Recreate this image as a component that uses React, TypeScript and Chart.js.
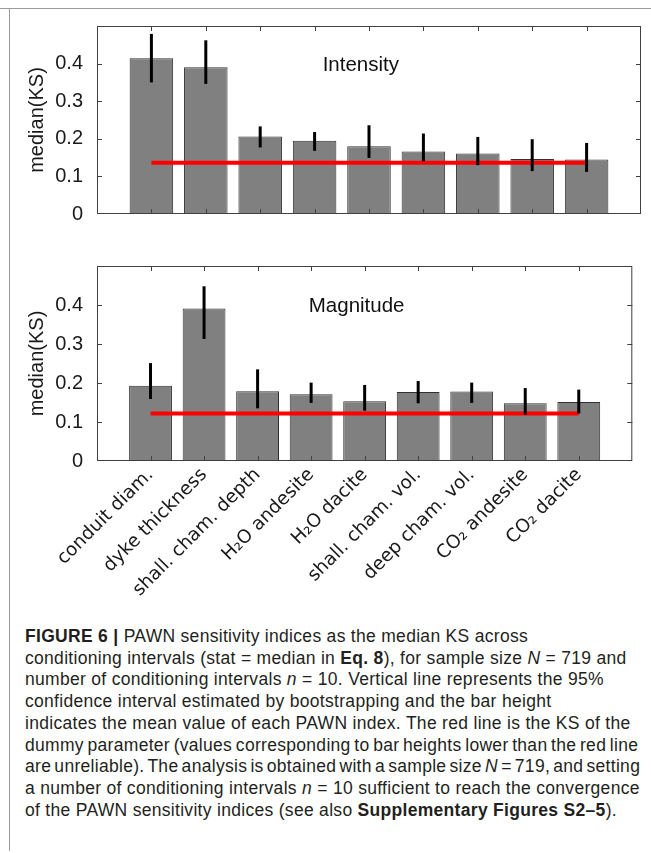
import React, { useEffect, useRef } from "react";
import { Chart, registerables } from "chart.js";

Chart.register(...registerables);

// ---------- data ----------
const categories = [
  "conduit diam.",
  "dyke thickness",
  "shall. cham. depth",
  "H\u2082O andesite",
  "H\u2082O dacite",
  "shall. cham. vol.",
  "deep cham. vol.",
  "CO\u2082 andesite",
  "CO\u2082 dacite",
];

const intensityValues = [0.414, 0.39, 0.206, 0.195, 0.18, 0.166, 0.161, 0.146, 0.145];
const intensityLow = [0.35, 0.346, 0.177, 0.168, 0.149, 0.14, 0.13, 0.114, 0.112];
const intensityHigh = [0.479, 0.462, 0.233, 0.218, 0.236, 0.214, 0.205, 0.199, 0.189];
const intensityDummy = 0.1366;

const magnitudeValues = [0.193, 0.391, 0.179, 0.171, 0.153, 0.177, 0.178, 0.148, 0.151];
const magnitudeLow = [0.159, 0.313, 0.135, 0.149, 0.129, 0.148, 0.149, 0.119, 0.122];
const magnitudeHigh = [0.251, 0.448, 0.235, 0.201, 0.195, 0.205, 0.201, 0.187, 0.183];
const magnitudeDummy = 0.122;

const yTickValues = [0, 0.1, 0.2, 0.3, 0.4];
const yMax = 0.5;

// ---------- helpers ----------
const axisLabels = ["", ...categories, ""];
const pad = (arr: (number | null)[]) => [null, ...arr, null];

const decorPlugin = {
  id: "pawnDecor",
  afterDatasetsDraw(chart: any, _args: any, opts: any) {
    const { ctx, chartArea: a } = chart;
    const x = chart.scales.x;
    const y = chart.scales.y;
    ctx.save();
    // error bars
    ctx.strokeStyle = "#000";
    ctx.lineWidth = 3;
    (opts.low as number[]).forEach((lo, i) => {
      const px = x.getPixelForValue(i + 1);
      ctx.beginPath();
      ctx.moveTo(px, y.getPixelForValue(lo));
      ctx.lineTo(px, y.getPixelForValue(opts.high[i]));
      ctx.stroke();
    });
    // frame
    ctx.strokeStyle = "#404040";
    ctx.lineWidth = 1;
    ctx.strokeRect(a.left + 0.5, a.top + 0.5, a.right - a.left - 1, a.bottom - a.top - 1);
    // inward ticks
    const tl = 5;
    ctx.beginPath();
    for (let i = 1; i <= categories.length; i++) {
      const px = Math.round(x.getPixelForValue(i)) + 0.5;
      ctx.moveTo(px, a.top);
      ctx.lineTo(px, a.top + tl);
      ctx.moveTo(px, a.bottom);
      ctx.lineTo(px, a.bottom - tl);
    }
    yTickValues.forEach((v) => {
      if (v === 0) return;
      const py = Math.round(y.getPixelForValue(v)) + 0.5;
      ctx.moveTo(a.left, py);
      ctx.lineTo(a.left + tl, py);
      ctx.moveTo(a.right, py);
      ctx.lineTo(a.right - tl, py);
    });
    ctx.stroke();
    // panel title
    ctx.fillStyle = "#111";
    ctx.font = '20.5px "Liberation Sans", Arial, sans-serif';
    ctx.textAlign = "center";
    ctx.textBaseline = "middle";
    ctx.fillText(opts.title, x.getPixelForValue(opts.titleX), y.getPixelForValue(opts.titleY));
    ctx.restore();
  },
};

type PanelProps = {
  values: number[];
  low: number[];
  high: number[];
  dummy: number;
  title: string;
  showLabels: boolean;
  height: number;
  padTop: number;
  xAxisHeight: number;
};

function Panel(props: PanelProps) {
  const ref = useRef<HTMLCanvasElement | null>(null);
  useEffect(() => {
    if (!ref.current) return;
    const chart = new Chart(ref.current, {
      type: "bar",
      data: {
        labels: axisLabels,
        datasets: [
          {
            type: "bar",
            data: pad(props.values),
            backgroundColor: "#808080",
            borderColor: "#303030",
            borderWidth: 1,
            categoryPercentage: 1,
            barPercentage: 0.8,
            order: 0,
          } as any,
          {
            type: "line",
            data: pad(props.values.map(() => props.dummy)),
            borderColor: "#ff0000",
            borderWidth: 4,
            pointRadius: 0,
            fill: false,
            order: -1,
          } as any,
        ],
      },
      options: {
        responsive: false,
        animation: false,
        layout: { padding: { top: props.padTop, right: 10, left: 0, bottom: 0 } },
        plugins: {
          legend: { display: false },
          tooltip: { enabled: false },
          pawnDecor: {
            low: props.low,
            high: props.high,
            title: props.title,
            titleX: 4.85,
            titleY: 0.396,
          },
        } as any,
        scales: {
          x: {
            type: "category",
            offset: false,
            grid: { display: false, drawTicks: false },
            border: { display: false },
            ticks: {
              display: props.showLabels,
              autoSkip: false,
              maxRotation: 45,
              minRotation: 45,
              padding: 3,
              color: "#1a1a1a",
              font: { family: '"DejaVu Sans", sans-serif', size: 18.5 },
            },
            afterFit: (s: any) => {
              s.height = props.xAxisHeight;
            },
          },
          y: {
            min: 0,
            max: yMax,
            grid: { display: false, drawTicks: false },
            border: { display: false },
            ticks: {
              stepSize: 0.1,
              padding: 14,
              color: "#1a1a1a",
              font: { family: '"Liberation Sans", Arial, sans-serif', size: 20 },
              callback: (v: any) => {
                const n = Number(v);
                if (n > 0.45) return "";
                return n === 0 ? "0" : n.toFixed(1);
              },
            },
            title: {
              display: true,
              text: "median(KS)",
              color: "#1a1a1a",
              font: { family: '"Liberation Sans", Arial, sans-serif', size: 20 },
              padding: { top: 25, bottom: 0 },
            },
            afterFit: (s: any) => {
              s.width = 97;
            },
          },
        },
      },
      plugins: [decorPlugin],
    });
    return () => chart.destroy();
  }, []);
  return (
    <canvas
      ref={ref}
      width={651}
      height={props.height}
      style={{ display: "block", width: 651, height: props.height }}
    />
  );
}

const captionStyle: React.CSSProperties = {
  position: "absolute",
  left: 25,
  top: 626,
  fontFamily: '"Liberation Sans", Arial, sans-serif',
  fontSize: 17.5,
  letterSpacing: "0.3px",
  lineHeight: "21.7px",
  color: "#231f20",
  whiteSpace: "nowrap",
};

export default function App() {
  return (
    <div
      style={{
        position: "absolute",
        left: 0,
        top: 0,
        width: 651,
        height: 853,
        background: "#fff",
        overflow: "hidden",
      }}
    >
      <div style={{ position: "absolute", left: 0, top: 8, width: 651, height: 1, background: "#9a9a9a" }} />
      <div style={{ position: "absolute", left: 9, top: 8, width: 1, height: 843, background: "#9a9a9a" }} />
      <div style={{ position: "absolute", left: 0, top: 0 }}>
        <Panel
          values={intensityValues}
          low={intensityLow}
          high={intensityHigh}
          dummy={intensityDummy}
          title="Intensity"
          showLabels={false}
          height={240}
          padTop={26}
          xAxisHeight={8}
        />
      </div>
      <div style={{ position: "absolute", left: 0, top: 240 }}>
        <Panel
          values={magnitudeValues}
          low={magnitudeLow}
          high={magnitudeHigh}
          dummy={magnitudeDummy}
          title="Magnitude"
          showLabels={true}
          height={380}
          padTop={13}
          xAxisHeight={159}
        />
      </div>
      <div style={captionStyle}>
        <div>
          <b>FIGURE 6 |</b> PAWN sensitivity indices as the median KS across
        </div>
        <div>
          conditioning intervals (stat = median in <b>Eq. 8</b>), for sample size <i>N</i> = 719 and
        </div>
        <div>
          number of conditioning intervals <i>n</i> = 10. Vertical line represents the 95%
        </div>
        <div>confidence interval estimated by bootstrapping and the bar height</div>
        <div>indicates the mean value of each PAWN index. The red line is the KS of the</div>
        <div style={{ wordSpacing: "-1.5px" }}>
          dummy parameter (values corresponding to bar heights lower than the red line
        </div>
        <div style={{ wordSpacing: "-2px" }}>
          are unreliable). The analysis is obtained with a sample size <i>N</i> = 719, and setting
        </div>
        <div>
          a number of conditioning intervals <i>n</i> = 10 sufficient to reach the convergence
        </div>
        <div>
          of the PAWN sensitivity indices (see also <b>Supplementary Figures S2–5</b>).
        </div>
      </div>
    </div>
  );
}
